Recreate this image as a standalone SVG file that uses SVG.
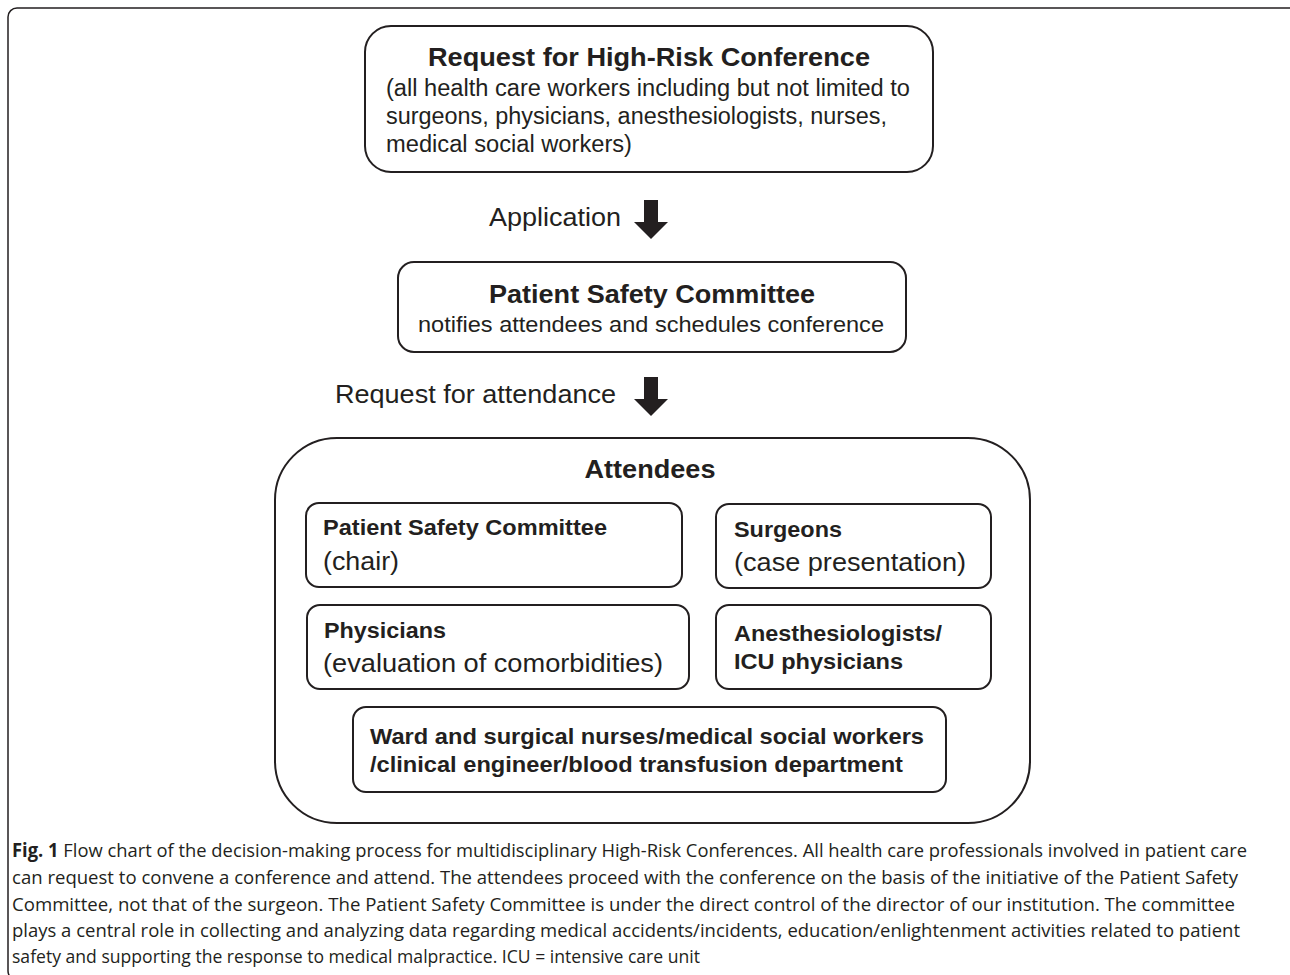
<svg xmlns="http://www.w3.org/2000/svg" width="1290" height="975" viewBox="0 0 1290 975">
<style>
.box{fill:#fff;stroke:#231f20;stroke-width:2}
.frame{fill:none;stroke:#231f20;stroke-width:1.5}
.t{font-family:"Liberation Sans",Arial,sans-serif;fill:#231f20}
.b{font-weight:bold}
.cap{font-family:"Open Sans","Liberation Sans",sans-serif;fill:#231f20;font-size:19px}
.arrow{fill:#231f20}
</style>
<rect width="1290" height="975" fill="#fff"/>
<rect class="frame" x="8" y="8" width="1292" height="972" rx="9"/>
<g id="node-request">
<rect class="box" x="365" y="26" width="568" height="146" rx="26"/>
<text class="t b" x="649" y="66" font-size="26" text-anchor="middle" textLength="442" lengthAdjust="spacingAndGlyphs">Request for High-Risk Conference</text>
<text class="t" x="386" y="96" font-size="23" textLength="524" lengthAdjust="spacingAndGlyphs">(all health care workers including but not limited to</text>
<text class="t" x="386" y="124" font-size="23" textLength="501" lengthAdjust="spacingAndGlyphs">surgeons, physicians, anesthesiologists, nurses,</text>
<text class="t" x="386" y="152" font-size="23" textLength="246" lengthAdjust="spacingAndGlyphs">medical social workers)</text>
</g>
<g id="node-psc">
<rect class="box" x="398" y="262" width="508" height="90" rx="16"/>
<text class="t b" x="652" y="303" font-size="25" text-anchor="middle" textLength="326" lengthAdjust="spacingAndGlyphs">Patient Safety Committee</text>
<text class="t" x="651" y="332" font-size="22" text-anchor="middle" textLength="466" lengthAdjust="spacingAndGlyphs">notifies attendees and schedules conference</text>
</g>
<g id="node-attendees">
<rect class="box" x="275" y="438" width="755" height="385" rx="62"/>
<text class="t b" x="650" y="478" font-size="25" text-anchor="middle" textLength="131" lengthAdjust="spacingAndGlyphs">Attendees</text>
</g>
<g id="node-chair">
<rect class="box" x="306" y="503" width="376" height="84" rx="13"/>
<text class="t b" x="323" y="535" font-size="22" textLength="284" lengthAdjust="spacingAndGlyphs">Patient Safety Committee</text>
<text class="t" x="323" y="570" font-size="25" textLength="76" lengthAdjust="spacingAndGlyphs">(chair)</text>
</g>
<g id="node-surgeons">
<rect class="box" x="716" y="504" width="275" height="84" rx="13"/>
<text class="t b" x="734" y="537" font-size="22" textLength="108" lengthAdjust="spacingAndGlyphs">Surgeons</text>
<text class="t" x="734" y="571" font-size="25" textLength="232" lengthAdjust="spacingAndGlyphs">(case presentation)</text>
</g>
<g id="node-physicians">
<rect class="box" x="307" y="605" width="382" height="84" rx="13"/>
<text class="t b" x="324" y="638" font-size="22" textLength="122" lengthAdjust="spacingAndGlyphs">Physicians</text>
<text class="t" x="323" y="672" font-size="25" textLength="340" lengthAdjust="spacingAndGlyphs">(evaluation of comorbidities)</text>
</g>
<g id="node-anesth">
<rect class="box" x="716" y="605" width="275" height="84" rx="13"/>
<text class="t b" x="734" y="641" font-size="22" textLength="208" lengthAdjust="spacingAndGlyphs">Anesthesiologists/</text>
<text class="t b" x="734" y="669" font-size="22" textLength="169" lengthAdjust="spacingAndGlyphs">ICU physicians</text>
</g>
<g id="node-ward">
<rect class="box" x="353" y="707" width="593" height="85" rx="13"/>
<text class="t b" x="370" y="744" font-size="22" textLength="554" lengthAdjust="spacingAndGlyphs">Ward and surgical nurses/medical social workers</text>
<text class="t b" x="370" y="772" font-size="22" textLength="533" lengthAdjust="spacingAndGlyphs">/clinical engineer/blood transfusion department</text>
</g>
<g id="connectors">
<polygon class="arrow" points="644,200 658,200 658,222 668,222 651,239 634,222 644,222"/>
<text class="t" x="489" y="226" font-size="26" textLength="132" lengthAdjust="spacingAndGlyphs">Application</text>
<polygon class="arrow" points="644,377 658,377 658,399 668,399 651,416 634,399 644,399"/>
<text class="t" x="335" y="403" font-size="26" textLength="281" lengthAdjust="spacingAndGlyphs">Request for attendance</text>
</g>
<g id="caption">
<text class="cap" x="12" y="857" textLength="1235" lengthAdjust="spacingAndGlyphs"><tspan font-weight="bold">Fig. 1</tspan> Flow chart of the decision-making process for multidisciplinary High-Risk Conferences. All health care professionals involved in patient care</text>
<text class="cap" x="12" y="884" textLength="1226" lengthAdjust="spacingAndGlyphs">can request to convene a conference and attend. The attendees proceed with the conference on the basis of the initiative of the Patient Safety</text>
<text class="cap" x="12" y="911" textLength="1223" lengthAdjust="spacingAndGlyphs">Committee, not that of the surgeon. The Patient Safety Committee is under the direct control of the director of our institution. The committee</text>
<text class="cap" x="12" y="937" textLength="1228" lengthAdjust="spacingAndGlyphs">plays a central role in collecting and analyzing data regarding medical accidents/incidents, education/enlightenment activities related to patient</text>
<text class="cap" x="12" y="963" textLength="688" lengthAdjust="spacingAndGlyphs">safety and supporting the response to medical malpractice. ICU = intensive care unit</text>
</g>
</svg>
